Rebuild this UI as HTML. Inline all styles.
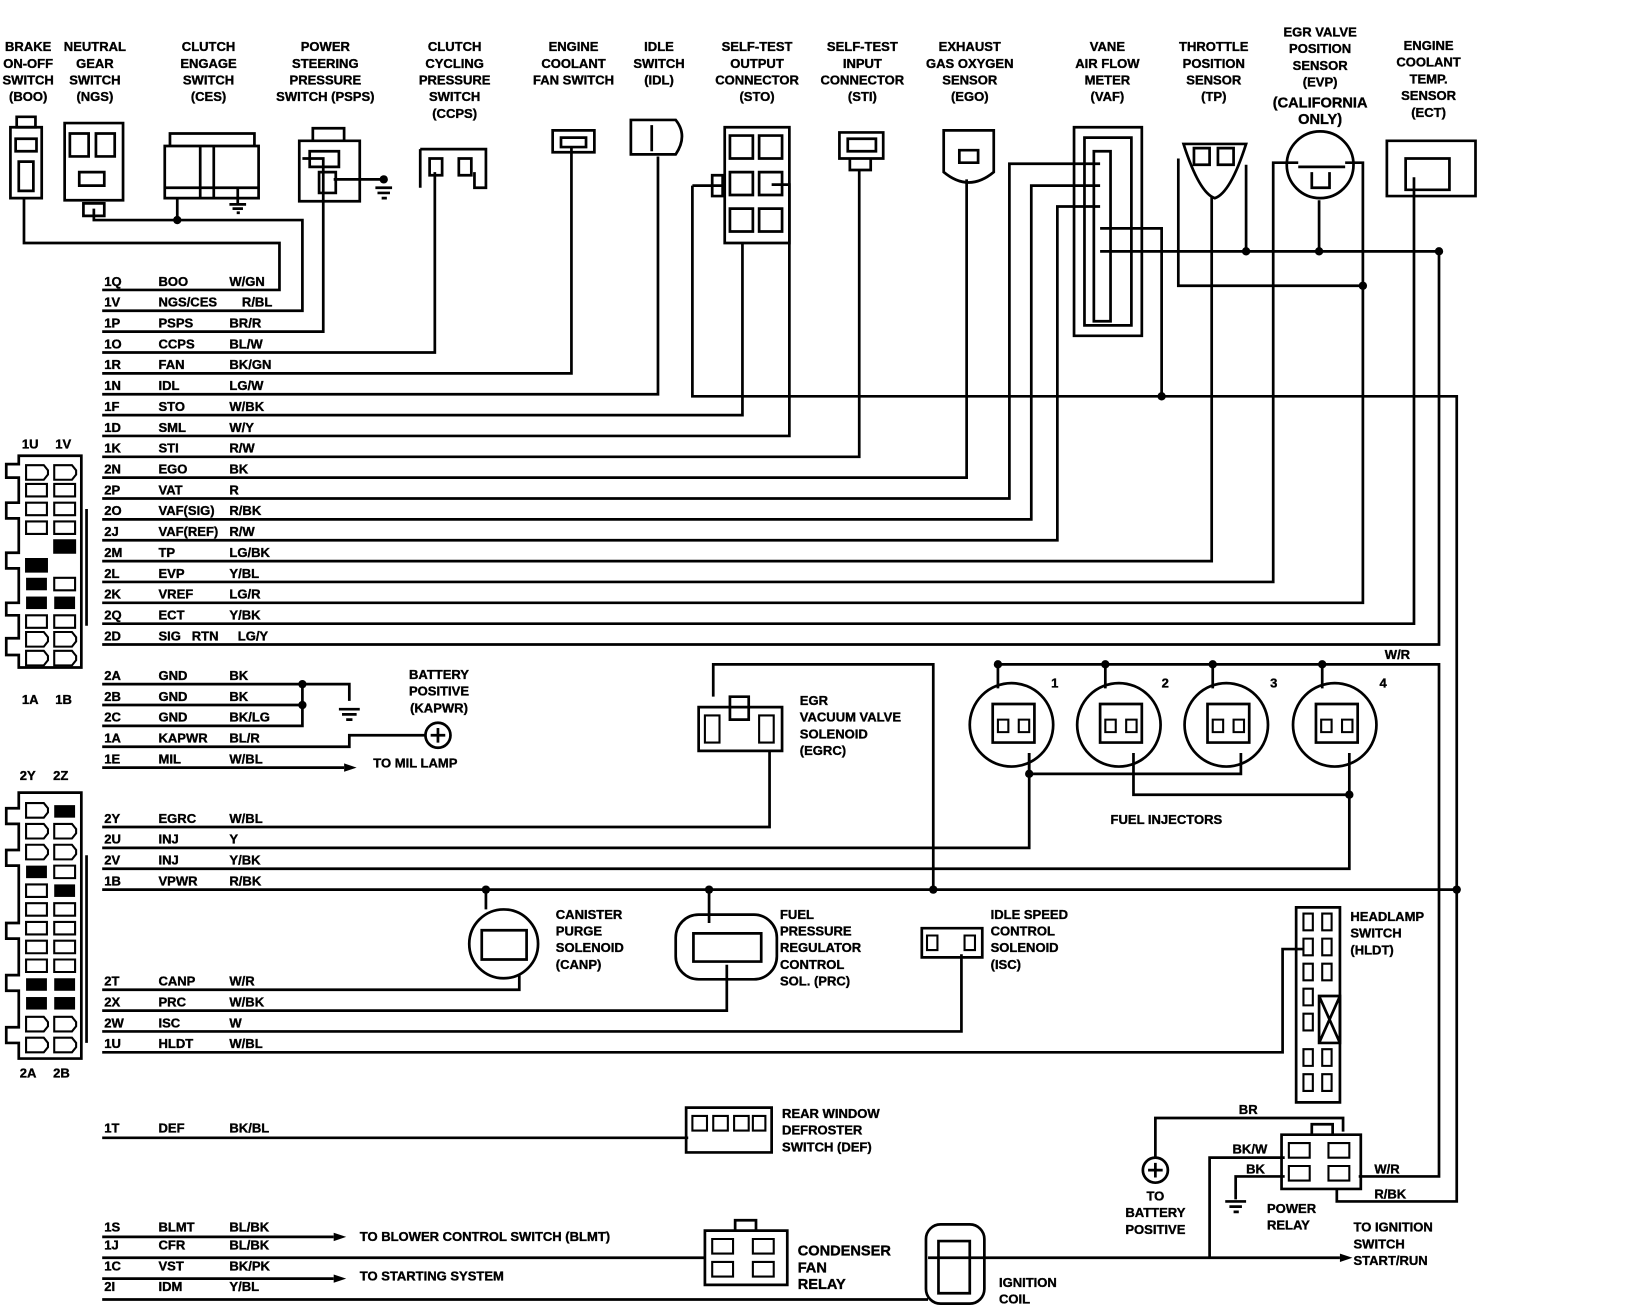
<!DOCTYPE html>
<html><head><meta charset="utf-8"><style>
html,body{margin:0;padding:0;background:#fff;}
svg{display:block}
text{font-family:"Liberation Sans",sans-serif;font-weight:bold;font-size:12.5px;fill:#000;stroke:#000;stroke-width:0.35}
.c{text-anchor:middle}
</style></head><body>
<svg width="1634" height="1312" viewBox="0 0 1567 1258" preserveAspectRatio="none" xmlns="http://www.w3.org/2000/svg">
<g>
<text class="c" x="27" y="49">BRAKE</text><text class="c" x="27" y="65">ON-OFF</text><text class="c" x="27" y="81">SWITCH</text><text class="c" x="27" y="97">(BOO)</text>
<text class="c" x="91" y="49">NEUTRAL</text><text class="c" x="91" y="65">GEAR</text><text class="c" x="91" y="81">SWITCH</text><text class="c" x="91" y="97">(NGS)</text>
<text class="c" x="200" y="49">CLUTCH</text><text class="c" x="200" y="65">ENGAGE</text><text class="c" x="200" y="81">SWITCH</text><text class="c" x="200" y="97">(CES)</text>
<text class="c" x="312" y="49">POWER</text><text class="c" x="312" y="65">STEERING</text><text class="c" x="312" y="81">PRESSURE</text><text class="c" x="312" y="97">SWITCH (PSPS)</text>
<text class="c" x="436" y="49">CLUTCH</text><text class="c" x="436" y="65">CYCLING</text><text class="c" x="436" y="81">PRESSURE</text><text class="c" x="436" y="97">SWITCH</text><text class="c" x="436" y="113">(CCPS)</text>
<text class="c" x="550" y="49">ENGINE</text><text class="c" x="550" y="65">COOLANT</text><text class="c" x="550" y="81">FAN SWITCH</text>
<text class="c" x="632" y="49">IDLE</text><text class="c" x="632" y="65">SWITCH</text><text class="c" x="632" y="81">(IDL)</text>
<text class="c" x="726" y="49">SELF-TEST</text><text class="c" x="726" y="65">OUTPUT</text><text class="c" x="726" y="81">CONNECTOR</text><text class="c" x="726" y="97">(STO)</text>
<text class="c" x="827" y="49">SELF-TEST</text><text class="c" x="827" y="65">INPUT</text><text class="c" x="827" y="81">CONNECTOR</text><text class="c" x="827" y="97">(STI)</text>
<text class="c" x="930" y="49">EXHAUST</text><text class="c" x="930" y="65">GAS OXYGEN</text><text class="c" x="930" y="81">SENSOR</text><text class="c" x="930" y="97">(EGO)</text>
<text class="c" x="1062" y="49">VANE</text><text class="c" x="1062" y="65">AIR FLOW</text><text class="c" x="1062" y="81">METER</text><text class="c" x="1062" y="97">(VAF)</text>
<text class="c" x="1164" y="49">THROTTLE</text><text class="c" x="1164" y="65">POSITION</text><text class="c" x="1164" y="81">SENSOR</text><text class="c" x="1164" y="97">(TP)</text>
<text class="c" x="1266" y="35">EGR VALVE</text><text class="c" x="1266" y="51">POSITION</text><text class="c" x="1266" y="67">SENSOR</text><text class="c" x="1266" y="83">(EVP)</text><text class="c" x="1266" y="103" style="font-size:14px">(CALIFORNIA</text><text class="c" x="1266" y="119" style="font-size:14px">ONLY)</text>
<text class="c" x="1370" y="48">ENGINE</text><text class="c" x="1370" y="64">COOLANT</text><text class="c" x="1370" y="80">TEMP.</text><text class="c" x="1370" y="96">SENSOR</text><text class="c" x="1370" y="112">(ECT)</text>
</g>

<g>
<text x="100" y="274">1Q</text><text x="152" y="274">BOO</text><text x="220" y="274">W/GN</text>
<text x="100" y="294">1V</text><text x="152" y="294">NGS/CES</text><text x="232" y="294">R/BL</text>
<text x="100" y="314">1P</text><text x="152" y="314">PSPS</text><text x="220" y="314">BR/R</text>
<text x="100" y="334">1O</text><text x="152" y="334">CCPS</text><text x="220" y="334">BL/W</text>
<text x="100" y="354">1R</text><text x="152" y="354">FAN</text><text x="220" y="354">BK/GN</text>
<text x="100" y="374">1N</text><text x="152" y="374">IDL</text><text x="220" y="374">LG/W</text>
<text x="100" y="394">1F</text><text x="152" y="394">STO</text><text x="220" y="394">W/BK</text>
<text x="100" y="414">1D</text><text x="152" y="414">SML</text><text x="220" y="414">W/Y</text>
<text x="100" y="434">1K</text><text x="152" y="434">STI</text><text x="220" y="434">R/W</text>
<text x="100" y="454">2N</text><text x="152" y="454">EGO</text><text x="220" y="454">BK</text>
<text x="100" y="474">2P</text><text x="152" y="474">VAT</text><text x="220" y="474">R</text>
<text x="100" y="494">2O</text><text x="152" y="494">VAF(SIG)</text><text x="220" y="494">R/BK</text>
<text x="100" y="514">2J</text><text x="152" y="514">VAF(REF)</text><text x="220" y="514">R/W</text>
<text x="100" y="534">2M</text><text x="152" y="534">TP</text><text x="220" y="534">LG/BK</text>
<text x="100" y="554">2L</text><text x="152" y="554">EVP</text><text x="220" y="554">Y/BL</text>
<text x="100" y="574">2K</text><text x="152" y="574">VREF</text><text x="220" y="574">LG/R</text>
<text x="100" y="594">2Q</text><text x="152" y="594">ECT</text><text x="220" y="594">Y/BK</text>
<text x="100" y="614">2D</text><text x="152" y="614">SIG&#160;&#160;&#160;RTN</text><text x="228" y="614">LG/Y</text>
<text x="100" y="652">2A</text><text x="152" y="652">GND</text><text x="220" y="652">BK</text>
<text x="100" y="672">2B</text><text x="152" y="672">GND</text><text x="220" y="672">BK</text>
<text x="100" y="692">2C</text><text x="152" y="692">GND</text><text x="220" y="692">BK/LG</text>
<text x="100" y="712">1A</text><text x="152" y="712">KAPWR</text><text x="220" y="712">BL/R</text>
<text x="100" y="732">1E</text><text x="152" y="732">MIL</text><text x="220" y="732">W/BL</text>
<text x="100" y="789">2Y</text><text x="152" y="789">EGRC</text><text x="220" y="789">W/BL</text>
<text x="100" y="809">2U</text><text x="152" y="809">INJ</text><text x="220" y="809">Y</text>
<text x="100" y="829">2V</text><text x="152" y="829">INJ</text><text x="220" y="829">Y/BK</text>
<text x="100" y="849">1B</text><text x="152" y="849">VPWR</text><text x="220" y="849">R/BK</text>
<text x="100" y="945">2T</text><text x="152" y="945">CANP</text><text x="220" y="945">W/R</text>
<text x="100" y="965">2X</text><text x="152" y="965">PRC</text><text x="220" y="965">W/BK</text>
<text x="100" y="985">2W</text><text x="152" y="985">ISC</text><text x="220" y="985">W</text>
<text x="100" y="1005">1U</text><text x="152" y="1005">HLDT</text><text x="220" y="1005">W/BL</text>
<text x="100" y="1086">1T</text><text x="152" y="1086">DEF</text><text x="220" y="1086">BK/BL</text>
<text x="100" y="1181">1S</text><text x="152" y="1181">BLMT</text><text x="220" y="1181">BL/BK</text>
<text x="100" y="1198">1J</text><text x="152" y="1198">CFR</text><text x="220" y="1198">BL/BK</text>
<text x="100" y="1218">1C</text><text x="152" y="1218">VST</text><text x="220" y="1218">BK/PK</text>
<text x="100" y="1238">2I</text><text x="152" y="1238">IDM</text><text x="220" y="1238">Y/BL</text>
<text x="21" y="430">1U</text><text x="53" y="430">1V</text><text x="21" y="675">1A</text><text x="53" y="675">1B</text>
<text x="19" y="748">2Y</text><text x="51" y="748">2Z</text><text x="19" y="1033">2A</text><text x="51" y="1033">2B</text>
<text class="c" x="421" y="651">BATTERY</text><text class="c" x="421" y="667">POSITIVE</text><text class="c" x="421" y="683">(KAPWR)</text>
<text x="358" y="736">TO MIL LAMP</text>
<text x="767" y="676">EGR</text><text x="767" y="692">VACUUM VALVE</text><text x="767" y="708">SOLENOID</text><text x="767" y="724">(EGRC)</text>
<text x="1065" y="790">FUEL INJECTORS</text>
<text x="1008" y="659">1</text><text x="1114" y="659">2</text><text x="1218" y="659">3</text><text x="1323" y="659">4</text><text x="1328" y="632">W/R</text>
<text x="533" y="881">CANISTER</text><text x="533" y="897">PURGE</text><text x="533" y="913">SOLENOID</text><text x="533" y="929">(CANP)</text>
<text x="748" y="881">FUEL</text><text x="748" y="897">PRESSURE</text><text x="748" y="913">REGULATOR</text><text x="748" y="929">CONTROL</text><text x="748" y="945">SOL. (PRC)</text>
<text x="950" y="881">IDLE SPEED</text><text x="950" y="897">CONTROL</text><text x="950" y="913">SOLENOID</text><text x="950" y="929">(ISC)</text>
<text x="1295" y="883">HEADLAMP</text><text x="1295" y="899">SWITCH</text><text x="1295" y="915">(HLDT)</text>
<text x="750" y="1072">REAR WINDOW</text><text x="750" y="1088">DEFROSTER</text><text x="750" y="1104">SWITCH (DEF)</text>
<text x="1188" y="1068">BR</text><text x="1182" y="1106">BK/W</text><text x="1195" y="1125">BK</text><text x="1318" y="1125">W/R</text><text x="1318" y="1149">R/BK</text>
<text class="c" x="1108" y="1151">TO</text><text class="c" x="1108" y="1167">BATTERY</text><text class="c" x="1108" y="1183">POSITIVE</text>
<text x="1215" y="1163">POWER</text><text x="1215" y="1179">RELAY</text>
<text x="1298" y="1181">TO IGNITION</text><text x="1298" y="1197">SWITCH</text><text x="1298" y="1213">START/RUN</text>
<text x="345" y="1190">TO BLOWER CONTROL SWITCH (BLMT)</text><text x="345" y="1228">TO STARTING SYSTEM</text>
<text x="765" y="1204" style="font-size:14px">CONDENSER</text><text x="765" y="1220" style="font-size:14px">FAN</text><text x="765" y="1236" style="font-size:14px">RELAY</text>
<text x="958" y="1234">IGNITION</text><text x="958" y="1250">COIL</text>
</g>

<g fill="none" stroke="#000" stroke-width="2.6">
<path d="M98 278H268V233H23V190"/>
<path d="M98 298H290V211H90V200"/>
<path d="M170 211V190"/>
<path d="M98 318H310V152H290"/>
<path d="M98 338H417V165"/>
<path d="M98 358H548V140"/>
<path d="M98 378H631V150"/>
<path d="M98 398H712V233"/>
<path d="M98 418H757V177H740"/>
<path d="M98 438H824V163"/>
<path d="M98 458H927V172"/>
<path d="M98 478H968V157H1055"/>
<path d="M98 498H989V178H1055"/>
<path d="M98 518H1014V198H1055"/>
<path d="M98 538H1162V188"/>
<path d="M98 558H1221V156H1245"/>
<path d="M98 578H1307V156H1290"/>
<path d="M98 598H1356V170"/>
<path d="M98 618H1380V241H1055"/>
<path d="M664 178H693M664 178V380H1397V1152H1282V1140"/>
<path d="M1055 219H1114V380"/>
<path d="M1130 152V274H1307"/>
<path d="M1195 241V158M1265 241V192"/>
<path d="M98 656H335V672M98 676H290M98 696H290V656"/>
<path d="M325 680H345M328 685H342M332 690H338"/>
<path d="M98 716H335V705H408"/>
<path d="M98 736H330"/>
<path d="M98 793H738V720"/>
<path d="M98 813H987V722"/>
<path d="M98 833H1294V722"/>
<path d="M98 853H1397"/>
<path d="M466 853V872M680 853V885M895 853V637H684V668"/>
<path d="M98 949H498V935"/>
<path d="M98 969H697V925"/>
<path d="M98 989H922V915"/>
<path d="M98 1009H1230V910H1250"/>
<path d="M98 1091H660"/>
<path d="M98 1186H320M98 1206H676M98 1226H320M98 1246H890"/>
<path d="M890 1206H1160V1110H1232M1160 1206H1285"/>
<path d="M957 637H1380V1128H1303M957 637V660M1060 637V660M1163 637V660M1268 637V660"/>
<path d="M987 722V742H1190V722M1087 722V762H1294"/>
<path d="M1108 1110V1072H1288V1085"/>
<path d="M1185 1150V1128H1232M1175 1152H1195M1179 1157H1191M1183 1162H1188"/>
<path d="M368 172H320M360 180H376M362 185H374M366 190H371"/>
<path d="M228 180V195M220 196H236M223 200H233M227 204H230"/>
<!-- left connector blocks -->
<path d="M18 437H78V640H18V628H6V612H18V590H6V578H18V545H6V530H18V497H6V482H18V458H6V445H18Z"/>
<path d="M83 488V600"/>
<path d="M18 760H78V1015H18V1000H6V985H18V950H6V935H18V900H6V885H18V830H6V815H18V790H6V775H18Z"/>
<path d="M83 820V1000"/>
</g>
<g fill="none" stroke="#000" stroke-width="2">
<!-- upper connector cells -->
<path d="M25 446h17l4 5v4l-4 5h-17zM52 446h17l4 5v4l-4 5h-17z"/>
<path d="M25 464h20v12h-20zM52 464h20v12h-20zM25 482h20v12h-20zM52 482h20v12h-20zM25 500h20v12h-20zM52 500h20v12h-20zM52 518h20v12h-20zM25 536h20v12h-20zM52 554h20v12h-20zM25 590h20v12h-20zM52 590h20v12h-20z"/>
<path d="M25 606h17l4 5v4l-4 5h-17zM52 606h17l4 5v4l-4 5h-17zM25 624h17l4 5v4l-4 5h-17zM52 624h17l4 5v4l-4 5h-17z"/>
<!-- lower connector cells -->
<path d="M25 770h17l4 5v4l-4 5h-17zM25 790h17l4 5v4l-4 5h-17zM52 790h17l4 5v4l-4 5h-17zM25 810h17l4 5v4l-4 5h-17zM52 810h17l4 5v4l-4 5h-17z"/>
<path d="M52 830h20v12h-20zM25 848h20v12h-20zM25 866h20v12h-20zM52 866h20v12h-20zM25 884h20v12h-20zM52 884h20v12h-20zM25 902h20v12h-20zM52 902h20v12h-20zM25 920h20v12h-20zM52 920h20v12h-20z"/>
<path d="M25 975h17l4 5v4l-4 5h-17zM52 975h17l4 5v4l-4 5h-17zM25 995h17l4 5v4l-4 5h-17zM52 995h17l4 5v4l-4 5h-17z"/>
<!-- headlamp cells -->
<path d="M1250 876h9v16h-9zM1268 876h9v16h-9zM1250 900h9v16h-9zM1268 900h9v16h-9zM1250 924h9v16h-9zM1268 924h9v16h-9zM1250 948h9v16h-9zM1250 972h9v16h-9zM1250 1006h9v16h-9zM1268 1006h9v16h-9zM1250 1030h9v16h-9zM1268 1030h9v16h-9z"/>
<!-- injector pins -->
<path d="M957 690h10v12h-10zM977 690h10v12h-10zM1060 690h10v12h-10zM1080 690h10v12h-10zM1163 690h10v12h-10zM1183 690h10v12h-10zM1267 690h10v12h-10zM1287 690h10v12h-10z"/>
<!-- relay pins -->
<path d="M1236 1096h20v14h-20zM1274 1096h20v14h-20zM1236 1118h20v14h-20zM1274 1118h20v14h-20z"/>
<path d="M683 1188h20v14h-20zM722 1188h20v14h-20zM683 1210h20v14h-20zM722 1210h20v14h-20z"/>
<path d="M664 1070h14v14h-14zM684 1070h14v14h-14zM704 1070h14v14h-14zM722 1070h12v14h-12z"/>
<path d="M889 897h10v14h-10zM925 897h10v14h-10z"/>
<path d="M676 686h14v26h-14zM728 686h14v26h-14z"/>
</g>
<g fill="none" stroke="#000" stroke-width="2.6">
<path d="M10 122H40V190H10Z"/><path d="M16 112H34V122H16Z"/><path d="M15 133H35V145H15ZM18 155H32V183H18Z"/>
<path d="M62 118H118V192H62Z"/><path d="M67 128H85V150H67ZM92 128H110V150H92ZM76 165H100V178H76Z"/><path d="M80 195H100V207H80Z"/>
<path d="M158 140H248V190H158ZM163 128H244V140H163ZM158 180H248M192 140V190M205 140V190"/>
<path d="M287 135H345V193H287ZM300 123H330V135H300Z"/><path d="M297 145H325V160H297ZM306 165H322V185H306Z"/>
<path d="M403 143H466V180H455V165M403 143V180"/><path d="M412 152H424V168H412ZM440 152H452V168H440Z"/>
<path d="M530 125H570V146H530ZM538 132H562V141H538Z"/>
<path d="M605 115H648Q660 130 648 148H605ZM625 120V145"/>
<path d="M695 122H757V233H695Z"/><path d="M700 130H722V152H700ZM728 130H750V152H728ZM700 165H722V187H700ZM728 165H750V187H728ZM700 200H722V222H700ZM728 200H750V222H728ZM683 168H693V188H683Z"/>
<path d="M805 127H847V152H805ZM813 133H840V145H813ZM815 152H835V163H815Z"/>
<path d="M905 125H953V165Q929 185 905 165ZM920 144H938V156H920Z"/>
<path d="M1030 122H1095V322H1030ZM1040 132H1085V312H1040ZM1049 145H1065V308H1049Z"/>
<path d="M1135 138H1195Q1180 185 1165 190Q1150 185 1135 138ZM1145 142H1160V158H1145ZM1168 142H1183V158H1168Z"/>
<circle cx="1266" cy="158" r="32"/><path d="M1245 160H1290M1258 165V180H1275V165"/>
<path d="M1330 135H1415V188H1330ZM1348 152H1390V182H1348Z"/>
<circle cx="420" cy="705" r="12"/><path d="M420 698V712M413 705H427"/>
<circle cx="1108" cy="1122" r="12"/><path d="M1108 1115V1129M1101 1122H1115"/>
<path d="M670 678H750V720H670ZM700 668H718V690H700Z"/>
<circle cx="970" cy="695" r="40"/><circle cx="1073" cy="695" r="40"/><circle cx="1176" cy="695" r="40"/><circle cx="1280" cy="695" r="40"/>
<path d="M952 675H992V712H952ZM1055 675H1095V712H1055ZM1158 675H1198V712H1158ZM1262 675H1302V712H1262Z"/>
<circle cx="483" cy="905" r="33"/><path d="M462 892H505V920H462Z"/>
<rect x="648" y="877" width="97" height="62" rx="22"/><path d="M665 895H730V922H665Z"/>
<path d="M884 890H942V918H884Z"/>
<path d="M1243 870H1285V1057H1243Z"/><path d="M1265 955H1285V1000H1265ZM1265 955L1285 1000M1285 955L1265 1000"/>
<path d="M658 1062H740V1105H658Z"/>
<path d="M1229 1088H1305V1140H1229ZM1258 1078H1278V1088H1258Z"/>
<path d="M676 1180H755V1232H676ZM705 1170H725V1180H705Z"/>
<rect x="888" y="1174" width="56" height="76" rx="14"/><path d="M900 1190H930V1240H900Z"/>
</g>
<g fill="#000">
<rect x="25" y="536" width="20" height="12"/><rect x="52" y="518" width="20" height="12"/><rect x="25" y="554" width="20" height="12"/><rect x="25" y="572" width="20" height="12"/><rect x="52" y="572" width="20" height="12"/>
<rect x="52" y="772" width="20" height="12"/><rect x="25" y="830" width="20" height="12"/><rect x="52" y="848" width="20" height="12"/><rect x="25" y="938" width="20" height="12"/><rect x="52" y="938" width="20" height="12"/><rect x="25" y="956" width="20" height="12"/><rect x="52" y="956" width="20" height="12"/>
<circle cx="170" cy="211" r="4"/><circle cx="368" cy="172" r="4"/><circle cx="1114" cy="380" r="4"/>
<circle cx="1195" cy="241" r="4"/><circle cx="1265" cy="241" r="4"/><circle cx="1380" cy="241" r="4"/><circle cx="1307" cy="274" r="4"/>
<circle cx="290" cy="656" r="4"/><circle cx="290" cy="676" r="4"/>
<circle cx="466" cy="853" r="4"/><circle cx="680" cy="853" r="4"/><circle cx="895" cy="853" r="4"/><circle cx="1397" cy="853" r="4"/>
<circle cx="957" cy="637" r="4"/><circle cx="1060" cy="637" r="4"/><circle cx="1163" cy="637" r="4"/><circle cx="1268" cy="637" r="4"/>
<circle cx="987" cy="742" r="4"/><circle cx="1294" cy="762" r="4"/>
<path d="M330 732L342 736L330 740Z"/><path d="M320 1182L332 1186L320 1190Z"/><path d="M320 1222L332 1226L320 1230Z"/><path d="M1285 1202L1297 1206L1285 1210Z"/>
</g>
</svg>
</body></html>
